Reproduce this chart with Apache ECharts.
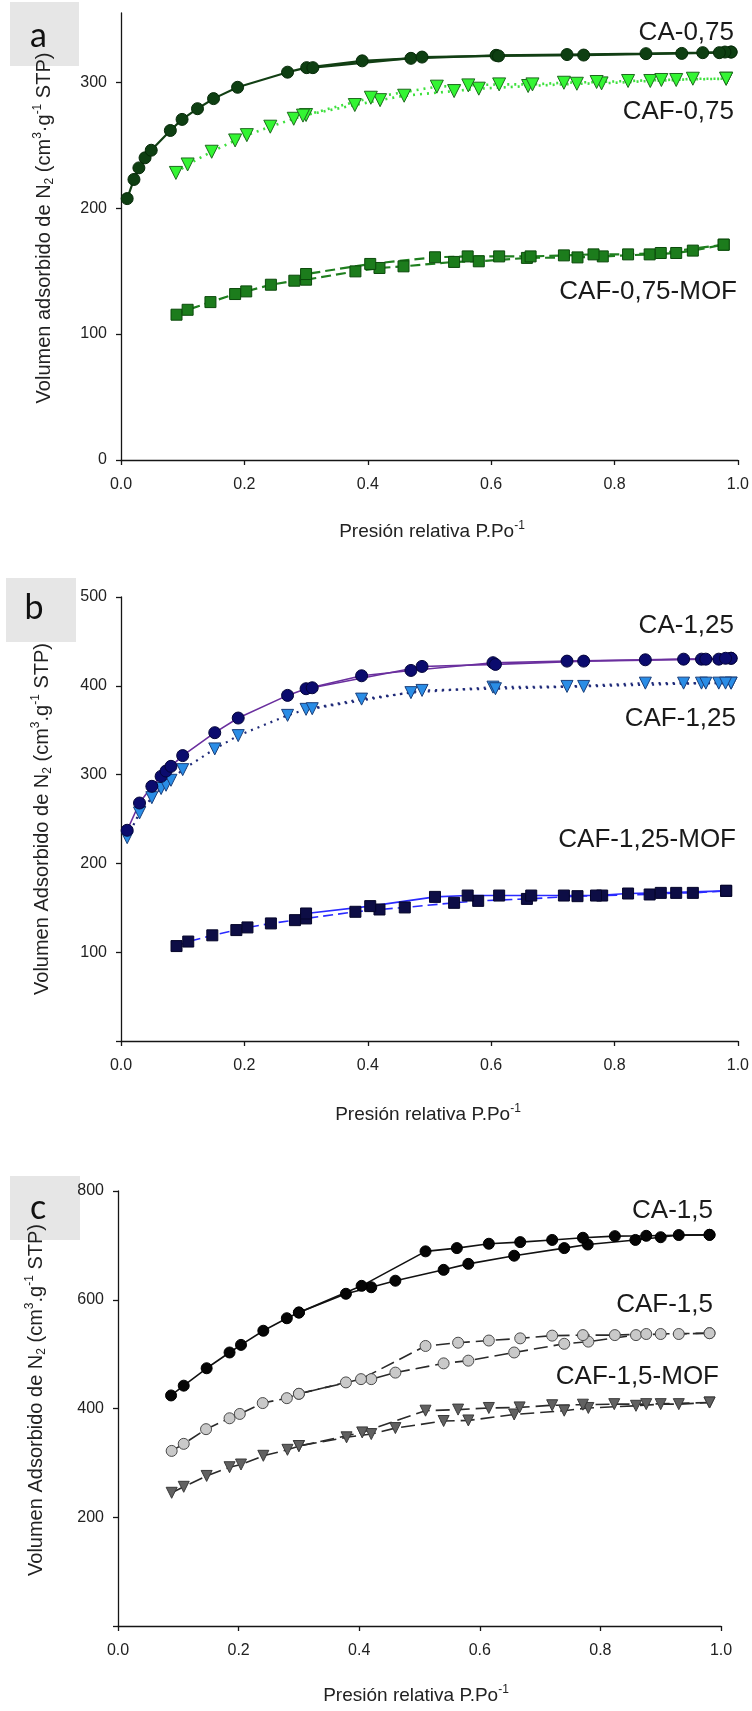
<!DOCTYPE html>
<html>
<head>
<meta charset="utf-8">
<script src="https://cdn.jsdelivr.net/npm/echarts@6/dist/echarts.min.js"></script>
<style>
html,body{margin:0;padding:0;background:#fff;}
#chart{width:752px;height:1711px;}
</style>
</head>
<body>
<div id="chart"></div>
<script>
// ---------- DATA (relative pressure P/Po, volume adsorbed cm3/g STP) ----------
// Panel a
const ca075Ads = [[0.010,207.6],[0.021,222.8],[0.029,232],[0.039,240],[0.049,246],[0.080,261.7],[0.099,270.5],[0.124,279],[0.150,287],[0.189,296],[0.270,308],[0.301,311.6],[0.391,317],[0.470,319],[0.608,321.4],[0.723,322],[0.851,322.7],[0.943,323.5],[0.989,324]];
const ca075Des = [[0.989,324],[0.979,324],[0.970,323.5],[0.909,322.9],[0.750,321.6],[0.612,320.9],[0.488,320],[0.311,311.6]];
const caf075Ads = [[0.089,228],[0.108,234.7],[0.147,244.8],[0.185,253.8],[0.204,258],[0.242,264.7],[0.280,271],[0.300,274],[0.379,281.9],[0.420,285.8],[0.459,289.3],[0.540,293],[0.580,294.9],[0.660,297],[0.739,298.8],[0.779,299.1],[0.858,301],[0.900,301.8],[0.927,302.8],[0.981,302.8]];
const caf075Des = [[0.981,302.8],[0.876,301.8],[0.822,301],[0.771,300.2],[0.718,299.6],[0.667,298.3],[0.613,298.3],[0.563,297.5],[0.512,296.5],[0.405,287.7],[0.295,273.5]];
const mof075Ads = [[0.090,115.4],[0.108,119.3],[0.145,125.4],[0.185,131.8],[0.203,133.9],[0.243,139.2],[0.281,142.4],[0.300,143.2],[0.380,149.8],[0.419,152.5],[0.458,153.8],[0.540,157.3],[0.580,157.8],[0.658,160.5],[0.740,160.9],[0.781,161.7],[0.857,163.3],[0.900,164.4],[0.927,166.3],[0.977,171]];
const mof075Des = [[0.977,171],[0.875,164.4],[0.822,163.3],[0.766,163.3],[0.718,162.5],[0.664,161.7],[0.613,161.7],[0.562,161.7],[0.509,161],[0.404,155.7],[0.300,147.7]];
// Panel b
const ca125Ads = [[0.010,237.3],[0.030,268],[0.050,286.8],[0.065,298],[0.073,304],[0.081,309.3],[0.100,321.4],[0.152,347.2],[0.190,363.7],[0.270,389.2],[0.300,396.7],[0.390,411.3],[0.470,417.3],[0.603,426],[0.723,427.8],[0.850,429.3],[0.912,430],[0.941,430],[0.969,430],[0.989,431]];
const ca125Des = [[0.989,431],[0.980,431],[0.948,430],[0.750,427.8],[0.607,424.1],[0.488,421.8],[0.310,397.8]];
const caf125Ads = [[0.010,229],[0.030,256.8],[0.050,274],[0.065,284.3],[0.073,288],[0.081,293.6],[0.100,305.6],[0.152,328.9],[0.190,343.9],[0.270,366.7],[0.300,373.5],[0.390,385],[0.470,392.3],[0.603,398.5],[0.723,399.3],[0.850,403],[0.912,403],[0.941,403],[0.969,403],[0.989,403]];
const caf125Des = [[0.989,403],[0.980,403],[0.948,403],[0.750,399.3],[0.607,396.7],[0.488,394.8],[0.310,374.2]];
const mof125Ads = [[0.090,106.9],[0.109,112],[0.148,119],[0.187,124.9],[0.205,127.9],[0.243,132.4],[0.282,136.1],[0.300,138],[0.380,145.5],[0.419,148.1],[0.460,150.4],[0.540,155.6],[0.579,157.8],[0.658,160],[0.740,163.1],[0.780,163.8],[0.857,165],[0.900,166.8],[0.927,166.8],[0.981,169.1]];
const mof125Des = [[0.981,169.1],[0.875,166.8],[0.822,166.1],[0.770,163.8],[0.718,163.8],[0.665,163.8],[0.613,163.8],[0.562,163.8],[0.509,162.3],[0.404,151.9],[0.300,143.6]];
// Panel c
const ca15Ads = [[0.088,424],[0.109,442],[0.147,474],[0.185,503],[0.204,517],[0.241,543],[0.280,566],[0.300,576.5],[0.378,611],[0.420,623],[0.460,635],[0.540,655],[0.581,666],[0.657,681],[0.740,695],[0.779,701.5],[0.858,710],[0.900,715],[0.930,719],[0.981,719.4]];
const ca15Des = [[0.981,719.4],[0.876,717.6],[0.824,717],[0.771,714],[0.720,710],[0.667,706],[0.615,703],[0.562,695],[0.510,689],[0.404,625.6],[0.300,576.5]];
const caf15Ads = [[0.089,322],[0.109,335],[0.146,362],[0.185,382],[0.202,390],[0.240,410],[0.280,419],[0.300,427],[0.378,448],[0.420,454],[0.460,466],[0.540,483],[0.581,488],[0.657,503],[0.740,519],[0.780,523],[0.859,535],[0.900,537],[0.930,537],[0.981,538.5]];
const caf15Des = [[0.981,538.5],[0.876,537],[0.824,535],[0.771,535],[0.720,534],[0.667,529],[0.615,525],[0.564,521],[0.510,515],[0.403,454],[0.300,427]];
const mof15Ads = [[0.089,245],[0.109,256],[0.147,276],[0.185,292],[0.204,297],[0.241,313],[0.281,324],[0.300,331],[0.379,347],[0.420,353],[0.460,364],[0.540,377],[0.581,378],[0.657,389],[0.740,396],[0.780,401],[0.859,405],[0.900,408],[0.930,408],[0.981,411]];
const mof15Des = [[0.981,411],[0.876,408],[0.823,408],[0.771,407],[0.720,406],[0.666,402],[0.615,401],[0.564,398],[0.510,396],[0.405,356],[0.300,331]];

// tick labels
const xTicks = [0, 0.2, 0.4, 0.6, 0.8, 1.0];
const yTicksA = [0, 100, 200, 300];
const yTicksB = [100, 200, 300, 400, 500];
const yTicksC = [200, 400, 600, 800];
const seriesLabels = {
  a: ['CA-0,75', 'CAF-0,75', 'CAF-0,75-MOF'],
  b: ['CA-1,25', 'CAF-1,25', 'CAF-1,25-MOF'],
  c: ['CA-1,5', 'CAF-1,5', 'CAF-1,5-MOF']
};
const xTitle = 'Presión relativa P.Po{sup|-1}';
const yTitleA = 'Volumen adsorbido de N{sub|2} (cm{sup|3}·g{sup|-1} STP)';
const yTitleB = 'Volumen Adsorbido de N{sub|2} (cm{sup|3}.g{sup|-1} STP)';
const yTitleC = 'Volumen Adsorbido de N{sub|2} (cm{sup|3}.g{sup|-1} STP)';

// ---------- CHART ----------
const FONT = "'Liberation Sans', Arial, Helvetica, sans-serif";
const chart = echarts.init(document.getElementById('chart'), null, {renderer: 'canvas'});

const grids = [
  {left: 121, top: 13, width: 617, height: 447},
  {left: 121, top: 597, width: 617, height: 444},
  {left: 118, top: 1191, width: 603, height: 435}
];
const axLine = {lineStyle: {color: '#151515', width: 1.3}};
const axTick = {show: true, inside: false, length: 5, lineStyle: {color: '#151515', width: 1.3}};

const xAxes = grids.map((g, i) => ({
  type: 'value', gridIndex: i, min: 0, max: 1, interval: 0.2,
  axisLine: axLine, axisTick: Object.assign({customValues: xTicks}, axTick),
  splitLine: {show: false},
  axisLabel: {customValues: xTicks, margin: 17, fontSize: 16, color: '#222', fontFamily: FONT,
    formatter: v => v.toFixed(1)}
}));
const yCfg = [[355, yTicksA, [0,100,200,300]], [500, yTicksB, [0,100,200,300,400,500]], [800, yTicksC, [0,200,400,600,800]]];
const yAxes = yCfg.map((c, i) => ({
  type: 'value', gridIndex: i, min: 0, max: c[0],
  axisLine: {show: true, lineStyle: axLine.lineStyle},
  axisTick: Object.assign({customValues: c[2]}, axTick),
  splitLine: {show: false},
  axisLabel: {customValues: c[1], margin: 14, fontSize: 16, color: '#222', fontFamily: FONT}
}));

function ser(gi, data, sym, size, fill, border, lcolor, lwidth, ltype, rot) {
  return {
    type: 'line', xAxisIndex: gi, yAxisIndex: gi, data: data,
    symbol: sym, symbolSize: size, symbolRotate: rot || 0, showSymbol: true,
    itemStyle: {color: fill, borderColor: border, borderWidth: 1},
    lineStyle: {color: lcolor, width: lwidth, type: ltype},
    animation: false, silent: true
  };
}
const series = [];
// panel a
[mof075Ads, mof075Des].forEach(d => series.push(ser(0, d, 'rect', 11, '#1c7c1c', '#0b4a0b', '#1f7f1f', 2.2, [10, 5])));
[caf075Ads, caf075Des].forEach(d => series.push(ser(0, d, 'triangle', 13, '#33f533', '#1d6a1d', '#3ee03e', 2.6, [2, 5], 180)));
[ca075Ads, ca075Des].forEach(d => series.push(ser(0, d, 'circle', 12, '#0e3f12', '#062a08', '#123f14', 2.2, 'solid')));
// panel b
series.push(ser(1, mof125Ads, 'rect', 11, '#0d0d45', '#05052a', '#2a2aff', 1.6, [10, 5]));
series.push(ser(1, mof125Des, 'rect', 11, '#0d0d45', '#05052a', '#2a2aff', 1.6, 'solid'));
[caf125Ads, caf125Des].forEach(d => series.push(ser(1, d, 'triangle', 12, '#2a8de6', '#1b3f7a', '#1f2a78', 2.2, [2, 5], 180)));
[ca125Ads, ca125Des].forEach(d => series.push(ser(1, d, 'circle', 12, '#0b0b6e', '#04043a', '#6a2f9e', 1.6, 'solid')));
// panel c
[mof15Ads, mof15Des].forEach(d => series.push(ser(2, d, 'triangle', 11, '#616161', '#3a3a3a', '#2a2a2a', 1.6, [14, 6], 180)));
[caf15Ads, caf15Des].forEach(d => series.push(ser(2, d, 'circle', 11, '#c9c9c9', '#4a4a4a', '#2a2a2a', 1.6, [14, 6])));
[ca15Ads, ca15Des].forEach(d => series.push(ser(2, d, 'circle', 11, '#050505', '#000', '#111', 1.6, 'solid')));

const richTxt = {
  sup: {fontSize: 12, fontFamily: FONT, fill: '#222', verticalAlign: 'top', lineHeight: 24},
  sub: {fontSize: 12, fontFamily: FONT, fill: '#222', verticalAlign: 'bottom', lineHeight: 24}
};
function txt(x, y, text, size, align, extra) {
  return Object.assign({
    type: 'text', x: x, y: y, silent: true,
    style: {text: text, fontSize: size, fontFamily: FONT, fill: '#1a1a1a', align: align || 'right', verticalAlign: 'middle'}
  }, extra || {});
}
function richText(x, y, text, size, rot) {
  return {
    type: 'text', x: x, y: y, rotation: rot || 0, silent: true,
    style: {text: text, fontSize: size, fontFamily: FONT, fill: '#222', align: 'center', verticalAlign: 'middle',
      lineHeight: 24, rich: richTxt}
  };
}
function letterBox(x, y, w, h, letter, lx, ly) {
  return [
    {type: 'rect', shape: {x: x, y: y, width: w, height: h}, style: {fill: '#e6e6e6'}, silent: true},
    {type: 'text', x: lx, y: ly, silent: true,
     style: {text: letter, fontSize: 34, fontFamily: "Lato, 'Open Sans', sans-serif", fill: '#111', align: 'center', verticalAlign: 'middle'}}
  ];
}
const graphics = [].concat(
  letterBox(10, 2, 69, 64, 'a', 38.5, 36),
  letterBox(6, 578, 70, 64, 'b', 34, 608),
  letterBox(10, 1176, 70, 64, 'c', 38, 1208),
  [
    txt(734, 33, seriesLabels.a[0], 26),
    txt(734, 112, seriesLabels.a[1], 26),
    txt(737, 292, seriesLabels.a[2], 26),
    txt(734, 626, seriesLabels.b[0], 26),
    txt(736, 719, seriesLabels.b[1], 26),
    txt(736, 840, seriesLabels.b[2], 26),
    txt(713, 1211, seriesLabels.c[0], 26),
    txt(713, 1305, seriesLabels.c[1], 26),
    txt(719, 1377, seriesLabels.c[2], 26),
    richText(432, 532, xTitle, 19),
    richText(428, 1115, xTitle, 19),
    richText(416, 1696, xTitle, 19),
    richText(44, 228, yTitleA, 20, Math.PI / 2),
    richText(42, 819, yTitleB, 20, Math.PI / 2),
    richText(36, 1400, yTitleC, 20, Math.PI / 2)
  ]
);

chart.setOption({
  backgroundColor: '#ffffff',
  animation: false,
  grid: grids,
  xAxis: xAxes,
  yAxis: yAxes,
  series: series,
  graphic: graphics
});
</script>
</body>
</html>
